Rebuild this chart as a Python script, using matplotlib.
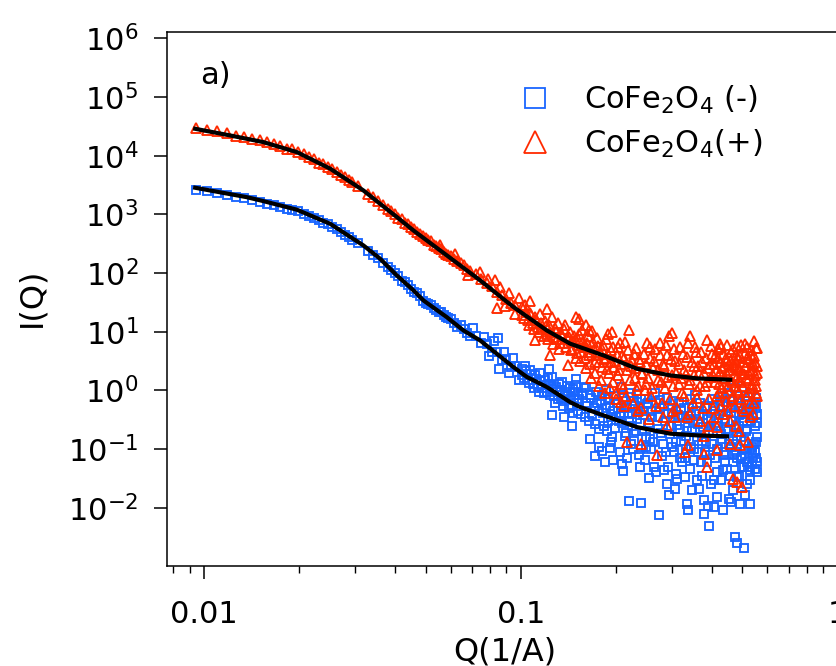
import matplotlib
matplotlib.use("Agg")
import matplotlib.pyplot as plt
import numpy as np
from matplotlib import ticker as mticker
from matplotlib.lines import Line2D

# ---- data: (Q in 1/A, I(Q)) ----
blue_low = [
    (0.0094, 2600), (0.0102, 2480), (0.0110, 2330), (0.0118, 2100), (0.0126, 2010),
    (0.0134, 1880), (0.0142, 1760), (0.0150, 1650), (0.0158, 1530), (0.0166, 1430),
    (0.0174, 1350), (0.0182, 1250), (0.0190, 1190), (0.0198, 1120), (0.0206, 1010),
    (0.0214, 950), (0.0222, 850), (0.0230, 800), (0.0238, 720), (0.0246, 680),
    (0.0254, 610), (0.0262, 560), (0.0270, 500), (0.0278, 445), (0.0286, 405),
    (0.0294, 372), (0.0305, 330), (0.0330, 240), (0.0342, 205), (0.0355, 180),
    (0.0368, 150), (0.0380, 126), (0.0390, 112), (0.0400, 100), (0.0410, 88),
    (0.0420, 74), (0.0430, 70), (0.0440, 62), (0.0450, 53), (0.0460, 47),
    (0.0470, 45), (0.0480, 40), (0.0490, 34), (0.0500, 31), (0.0510, 30),
    (0.0520, 28.5), (0.0530, 25), (0.0540, 23), (0.0550, 22), (0.0560, 21.5),
    (0.0570, 19.5), (0.0580, 17.5), (0.0590, 17), (0.0600, 16.5), (0.0615, 14),
    (0.0630, 12.2), (0.0645, 13), (0.0660, 11.0), (0.0675, 9.5), (0.0690, 8.6),
    (0.0705, 11.5), (0.0720, 8.3), (0.0750, 6.5), (0.0765, 8.2), (0.0780, 6.2),
    (0.0795, 3.9), (0.0810, 4.6), (0.0825, 6.9), (0.0840, 4.5), (0.0847, 7.7),
    (0.0855, 2.3), (0.0870, 3.3), (0.0885, 4.6), (0.0900, 3.4), (0.0915, 2.0),
    (0.0930, 2.5), (0.0945, 3.6), (0.0960, 2.6), (0.0985, 1.5),
]
blue_high = [
    (0.1005, 2.3), (0.102, 1.6), (0.104, 2.1), (0.106, 1.35), (0.108, 1.9),
    (0.110, 1.1), (0.112, 1.55), (0.114, 0.95), (0.116, 1.45), (0.118, 0.9),
    (0.120, 1.25), (0.122, 1.6), (0.1228, 2.3), (0.124, 0.85), (0.1253, 0.375),
    (0.126, 1.05), (0.128, 0.6), (0.130, 0.95), (0.132, 1.3), (0.134, 0.7),
    (0.136, 0.55), (0.1364, 0.35), (0.138, 0.85), (0.140, 1.2), (0.142, 0.5),
    (0.144, 0.75), (0.1445, 0.25), (0.146, 0.42), (0.146, 1.07), (0.148, 0.95),
    (0.1488, 1.55), (0.150, 0.62), (0.152, 0.85), (0.155, 0.4), (0.158, 1.1),
    (0.1608, 1.14), (0.161, 0.6), (0.164, 0.3), (0.165, 0.15), (0.167, 0.75),
    (0.170, 0.5), (0.172, 0.075), (0.173, 0.95), (0.176, 0.22), (0.179, 0.65),
    (0.181, 0.091), (0.182, 0.42), (0.185, 1.05), (0.186, 1.0), (0.187, 0.2),
    (0.188, 0.3), (0.1906, 0.104), (0.191, 0.55), (0.194, 0.16), (0.196, 0.065),
    (0.197, 0.8), (0.200, 0.35), (0.203, 0.5), (0.2065, 1.14), (0.2081, 0.056),
    (0.2097, 0.043), (0.209, 0.28), (0.212, 0.65), (0.215, 0.19), (0.218, 0.42),
    (0.2187, 0.0133), (0.221, 0.9), (0.2227, 0.77), (0.224, 0.25), (0.227, 0.14),
    (0.230, 0.55), (0.2325, 0.88), (0.233, 0.33), (0.236, 0.08), (0.239, 0.7),
    (0.2395, 0.0122), (0.242, 0.2), (0.245, 0.45), (0.248, 0.11), (0.250, 0.59),
    (0.252, 0.6), (0.2541, 0.032), (0.256, 0.15), (0.26, 0.35), (0.264, 0.049),
    (0.265, 0.9), (0.27, 0.22), (0.272, 0.0074), (0.275, 0.5), (0.2756, 0.675),
    (0.28, 0.12), (0.2836, 0.0446), (0.285, 0.3), (0.2891, 0.0257), (0.29, 0.75),
    (0.2941, 0.0163), (0.295, 0.18), (0.30, 0.42), (0.305, 0.09), (0.3055, 0.0211),
    (0.31, 0.26), (0.311, 0.0313), (0.315, 0.6), (0.3199, 0.456), (0.32, 0.14),
    (0.325, 0.35), (0.33, 0.07), (0.3303, 0.0333), (0.3343, 0.0117), (0.335, 0.2),
    (0.3382, 0.009), (0.34, 0.5), (0.345, 0.11), (0.3458, 0.0198), (0.35, 0.3),
    (0.355, 0.85), (0.3592, 0.0293), (0.36, 0.16), (0.3638, 0.0211), (0.365, 0.4),
    (0.37, 0.06), (0.375, 0.24), (0.3772, 0.0134), (0.3799, 0.0079), (0.38, 0.55),
    (0.385, 0.13), (0.3884, 0.0106), (0.39, 0.33), (0.3912, 0.0048), (0.395, 0.08),
    (0.40, 0.7), (0.405, 0.19), (0.4057, 0.0103), (0.4057, 0.0293), (0.41, 0.45),
    (0.415, 0.1), (0.4159, 0.0152), (0.42, 0.28), (0.425, 0.65), (0.43, 0.15),
    (0.4337, 0.009), (0.435, 0.38), (0.4357, 0.0434), (0.44, 0.06), (0.445, 0.22),
    (0.45, 0.9), (0.4524, 0.0143), (0.455, 0.12), (0.46, 0.5), (0.4609, 0.0125),
    (0.465, 0.3), (0.4683, 0.0198), (0.47, 0.08), (0.4749, 0.0032), (0.475, 1.1),
    (0.48, 0.17), (0.4808, 0.0025), (0.4808, 0.0333), (0.485, 0.6), (0.49, 0.25),
    (0.4914, 0.0114), (0.495, 0.07), (0.4987, 0.049), (0.50, 0.4), (0.5045, 0.0021),
    (0.505, 0.14), (0.51, 0.8), (0.5108, 0.0163), (0.515, 0.2), (0.517, 0.0257),
    (0.52, 0.05), (0.525, 0.45), (0.5297, 0.0114), (0.5297, 0.0434), (0.53, 0.9),
    (0.535, 0.11), (0.5363, 0.0564), (0.54, 0.35), (0.545, 0.6), (0.548, 0.045),
    (0.55, 0.09), (0.552, 0.5), (0.555, 0.28), (0.556, 0.04), (0.557, 0.16),
]
blue_band = [
    (0.101, 1.8), (0.103, 2.6), (0.105, 1.5), (0.107, 2.2), (0.109, 1.3), (0.111, 1.8),
    (0.113, 1.2), (0.115, 2.0), (0.117, 1.1), (0.119, 1.5), (0.121, 0.95), (0.123, 1.3),
    (0.125, 1.7), (0.127, 0.8), (0.129, 1.15), (0.131, 0.7), (0.133, 1.0), (0.135, 1.4),
    (0.137, 0.65), (0.139, 0.95), (0.141, 0.8), (0.143, 1.1), (0.145, 0.55), (0.147, 0.7),
    (0.149, 1.25), (0.151, 0.45), (0.153, 0.7), (0.156, 0.9), (0.159, 0.35), (0.162, 0.55),
    (0.165, 0.85), (0.168, 0.4), (0.171, 0.27), (0.174, 0.6), (0.177, 0.45), (0.180, 0.8),
    (0.183, 0.25), (0.186, 0.5), (0.189, 0.7), (0.192, 0.35), (0.195, 0.45), (0.198, 0.23),
    (0.201, 0.6), (0.204, 0.3), (0.207, 0.42), (0.210, 0.75), (0.213, 0.17), (0.216, 0.5),
    (0.219, 0.3), (0.222, 0.12), (0.225, 0.4), (0.228, 0.65), (0.231, 0.2), (0.234, 0.45),
    (0.237, 0.28), (0.240, 0.1), (0.243, 0.38), (0.246, 0.7), (0.249, 0.16), (0.253, 0.28),
    (0.257, 0.45), (0.261, 0.13), (0.267, 0.6), (0.271, 0.35), (0.277, 0.19), (0.283, 0.55),
    (0.287, 0.09), (0.292, 0.4), (0.297, 0.25), (0.302, 0.65), (0.308, 0.13), (0.313, 0.38),
    (0.318, 0.22), (0.322, 0.06), (0.328, 0.5), (0.332, 0.17), (0.337, 0.32), (0.343, 0.7),
    (0.347, 0.2), (0.352, 0.1), (0.357, 0.45), (0.362, 0.27), (0.367, 0.6), (0.372, 0.14),
    (0.377, 0.38), (0.382, 0.09), (0.387, 0.5), (0.392, 0.2), (0.397, 0.3), (0.402, 0.12),
    (0.407, 0.55), (0.412, 0.25), (0.417, 0.04), (0.422, 0.4), (0.427, 0.18), (0.432, 0.8),
    (0.437, 0.09), (0.442, 0.33), (0.447, 0.55), (0.452, 0.2), (0.457, 0.035), (0.462, 0.7),
    (0.467, 0.14), (0.472, 0.42), (0.477, 0.26), (0.482, 0.07), (0.487, 0.38), (0.492, 0.55),
    (0.497, 0.16), (0.502, 0.3), (0.507, 0.05), (0.512, 0.45), (0.518, 0.22), (0.522, 0.65),
    (0.527, 0.1), (0.532, 0.3), (0.537, 0.5), (0.542, 0.07), (0.547, 0.25), (0.551, 0.75),
    (0.554, 0.13), (0.557, 0.4), (0.557, 0.06),
]
blue_tail = [
    (0.176, 0.11), (0.184, 0.06), (0.193, 0.13), (0.205, 0.09), (0.217, 0.07), (0.226, 0.1),
    (0.238, 0.05), (0.247, 0.065), (0.258, 0.1), (0.268, 0.04), (0.279, 0.075), (0.291, 0.05),
    (0.299, 0.11), (0.309, 0.038), (0.319, 0.07), (0.331, 0.1), (0.341, 0.045), (0.353, 0.065),
    (0.363, 0.09), (0.374, 0.035), (0.386, 0.06), (0.398, 0.025), (0.409, 0.07), (0.419, 0.1),
    (0.428, 0.03), (0.439, 0.08), (0.449, 0.045), (0.459, 0.11), (0.469, 0.06), (0.479, 0.09),
    (0.489, 0.035), (0.499, 0.075), (0.509, 0.1), (0.519, 0.06), (0.528, 0.03), (0.538, 0.085),
    (0.546, 0.12), (0.553, 0.07),
]
red_low = [
    (0.0094, 29500), (0.0102, 27500), (0.0110, 26000), (0.0118, 24500), (0.0126, 21500),
    (0.0134, 20500), (0.0142, 19000), (0.0150, 18200), (0.0158, 16800), (0.0166, 15800),
    (0.0174, 14500), (0.0182, 13200), (0.0190, 12800), (0.0198, 11600), (0.0206, 10600),
    (0.0214, 9400), (0.0222, 8700), (0.0230, 7600), (0.0238, 7100), (0.0246, 6300),
    (0.0254, 5900), (0.0262, 5300), (0.0270, 4700), (0.0278, 4300), (0.0286, 3800),
    (0.0294, 3500), (0.0305, 3100), (0.0330, 2250), (0.0342, 1950), (0.0355, 1700),
    (0.0368, 1420), (0.0380, 1250), (0.0390, 1120), (0.0400, 1000), (0.0410, 880),
    (0.0420, 820), (0.0430, 720), (0.0440, 680), (0.0450, 600), (0.0460, 560),
    (0.0470, 500), (0.0480, 470), (0.0490, 420), (0.0500, 390), (0.0510, 360),
    (0.0520, 345), (0.0530, 305), (0.0540, 285), (0.0550, 265), (0.0557, 300),
    (0.0560, 252), (0.0570, 225), (0.0580, 215), (0.0590, 205), (0.0600, 195),
    (0.0615, 175), (0.0620, 210), (0.0630, 160), (0.0645, 150), (0.0660, 135),
    (0.0675, 118), (0.0680, 92), (0.0690, 108), (0.0720, 96), (0.0744, 104),
    (0.0750, 80), (0.0780, 68), (0.0790, 80), (0.0810, 60), (0.0830, 75),
    (0.0838, 25), (0.0840, 48), (0.0860, 58), (0.0870, 42), (0.0890, 27),
    (0.0900, 36), (0.0920, 45), (0.0930, 31), (0.0955, 20), (0.0960, 28),
    (0.0985, 38),
]
red_high = [
    (0.1005, 26), (0.102, 17), (0.104, 22), (0.106, 13), (0.107, 34),
    (0.108, 19), (0.110, 11), (0.1111, 7.1), (0.112, 16), (0.114, 10),
    (0.116, 14), (0.118, 8.5), (0.120, 12.5), (0.1208, 24.7), (0.122, 7.5),
    (0.1237, 3.95), (0.124, 10), (0.126, 6.2), (0.128, 11.5), (0.130, 7.5),
    (0.132, 5), (0.134, 9.5), (0.136, 6.5), (0.138, 13), (0.1408, 2.66),
    (0.142, 8), (0.144, 4.8), (0.146, 6.8), (0.1488, 17.7), (0.150, 4.3),
    (0.152, 7.5), (0.1525, 16.6), (0.154, 3.2), (0.156, 10.5), (0.158, 5.5),
    (0.160, 2.4), (0.1608, 12.8), (0.162, 6.5), (0.164, 4), (0.1645, 10.8),
    (0.166, 1.6), (0.168, 10.2), (0.170, 5), (0.172, 3), (0.174, 7.8),
    (0.176, 1.2), (0.178, 4.5), (0.180, 2.5), (0.182, 6), (0.184, 0.9),
    (0.186, 3.6), (0.188, 9.2), (0.190, 2), (0.192, 4.8), (0.194, 9.8),
    (0.196, 1.4), (0.198, 3.2), (0.200, 0.7), (0.202, 5.5), (0.204, 2.2),
    (0.2065, 0.63), (0.208, 3.8), (0.210, 1.1), (0.2117, 0.55), (0.213, 6.8),
    (0.2162, 0.13), (0.2195, 10.8), (0.222, 2.6), (0.227, 4.2), (0.230, 1.6),
    (0.2325, 1.0), (0.235, 0.45), (0.238, 3), (0.2395, 0.123), (0.242, 1.9),
    (0.248, 1.3), (0.250, 6.5), (0.2532, 0.33), (0.255, 3.5), (0.258, 0.8),
    (0.262, 2.4), (0.266, 5), (0.2698, 0.078), (0.270, 1.5), (0.2756, 6.5),
    (0.278, 0.6), (0.282, 2.8), (0.286, 1.1), (0.2891, 0.25), (0.290, 4),
    (0.2925, 8.3), (0.2993, 9.5), (0.300, 1.8), (0.303, 0.45), (0.3059, 0.35),
    (0.307, 3.2), (0.315, 1.3), (0.319, 5.5), (0.323, 0.9), (0.327, 2.2),
    (0.3303, 0.089), (0.3343, 0.35), (0.335, 3.7), (0.3382, 0.116), (0.341, 1.5),
    (0.3421, 8.3), (0.349, 0.6), (0.353, 2.6), (0.357, 4.6), (0.361, 1.0),
    (0.365, 2), (0.369, 0.3), (0.373, 3), (0.3772, 0.17), (0.3772, 0.083),
    (0.381, 1.2), (0.3862, 7.1), (0.3862, 0.049), (0.389, 2.4), (0.393, 0.7),
    (0.397, 1.7), (0.401, 4.2), (0.404, 0.5), (0.407, 2.8), (0.410, 1.4),
    (0.4159, 0.24), (0.4159, 0.095), (0.418, 3.6), (0.421, 0.9), (0.4242, 6.25),
    (0.424, 2), (0.427, 5.4), (0.430, 1.1), (0.436, 0.4), (0.439, 2.6),
    (0.442, 1.6), (0.445, 0.65), (0.448, 3.3), (0.451, 1.2), (0.454, 2.2),
    (0.457, 0.3), (0.4581, 0.123), (0.460, 4.5), (0.463, 1.4), (0.466, 0.8),
    (0.4683, 0.031), (0.469, 2.7), (0.472, 1.8), (0.475, 0.55), (0.478, 3.1),
    (0.4808, 5.6), (0.4808, 0.027), (0.481, 1.0), (0.484, 2.3), (0.487, 0.2),
    (0.490, 1.5), (0.4914, 0.116), (0.493, 3.8), (0.496, 0.7), (0.4987, 0.0225),
    (0.499, 2), (0.502, 1.2), (0.508, 0.45), (0.5108, 6.25), (0.511, 2.5),
    (0.514, 1.6), (0.517, 3.5), (0.520, 0.95), (0.5208, 0.13), (0.526, 1.9),
    (0.529, 0.35), (0.532, 4), (0.535, 1.3), (0.541, 2.2), (0.544, 0.6),
    (0.5452, 6.9), (0.547, 1.5), (0.550, 3), (0.553, 0.9), (0.556, 2),
    (0.557, 5.3),
]
red_band = [
    (0.101, 19), (0.103, 28), (0.105, 16), (0.107, 21), (0.109, 14), (0.111, 18),
    (0.113, 12), (0.115, 20), (0.117, 11), (0.119, 15), (0.121, 9), (0.123, 13),
    (0.125, 18), (0.127, 8), (0.129, 10), (0.131, 14), (0.133, 6.5), (0.135, 8.5),
    (0.137, 11), (0.139, 5.5), (0.141, 7.5), (0.143, 10), (0.145, 5), (0.147, 8.5),
    (0.149, 3.5), (0.151, 6), (0.153, 9), (0.155, 4.5), (0.157, 7), (0.159, 3.6),
    (0.161, 5.5), (0.163, 8.5), (0.165, 2.8), (0.167, 4.5), (0.169, 6.8), (0.171, 2),
    (0.173, 4), (0.175, 5.8), (0.177, 3), (0.179, 1.5), (0.181, 5), (0.183, 3.4),
    (0.185, 7.5), (0.187, 2.3), (0.189, 4.2), (0.191, 1.1), (0.193, 3), (0.195, 5.5),
    (0.197, 2.5), (0.199, 0.9), (0.201, 4), (0.203, 1.8), (0.205, 6.5), (0.207, 2.8),
    (0.209, 1.3), (0.211, 3.6), (0.214, 0.8), (0.216, 2.2), (0.218, 4.8), (0.221, 1.5),
    (0.224, 3.2), (0.226, 0.6), (0.229, 2.4), (0.231, 5.2), (0.234, 1.2), (0.236, 3.4),
    (0.239, 0.5), (0.241, 2), (0.244, 4.2), (0.246, 1), (0.249, 2.8), (0.252, 1.6),
    (0.256, 5.5), (0.259, 1.1), (0.263, 3.2), (0.267, 0.55), (0.271, 2.2), (0.274, 4),
    (0.277, 1.4), (0.281, 0.35), (0.284, 2.6), (0.288, 6), (0.291, 1.7), (0.295, 0.7),
    (0.298, 3.4), (0.302, 1.2), (0.305, 5), (0.309, 2), (0.312, 0.5), (0.316, 2.8),
    (0.32, 1.6), (0.324, 4.2), (0.328, 0.8), (0.332, 1.9), (0.336, 6.5), (0.339, 1.3),
    (0.343, 0.4), (0.347, 3), (0.351, 1.8), (0.355, 5.5), (0.359, 0.75), (0.363, 2.6),
    (0.367, 1.2), (0.371, 4.5), (0.375, 0.5), (0.379, 2), (0.383, 3.5), (0.387, 1.4),
    (0.391, 0.25), (0.395, 2.8), (0.399, 5.8), (0.403, 1.8), (0.406, 0.35), (0.409, 3.8),
    (0.412, 2.1), (0.415, 0.8), (0.419, 5), (0.422, 1.3), (0.425, 3), (0.428, 0.55),
    (0.431, 2.4), (0.434, 4.2), (0.437, 1.6), (0.440, 0.9), (0.443, 3.6), (0.446, 1.9),
    (0.449, 6), (0.452, 0.45), (0.455, 2.8), (0.458, 1.5), (0.461, 3.3), (0.464, 0.7),
    (0.467, 5), (0.470, 1.2), (0.473, 2.5), (0.476, 0.25), (0.479, 4), (0.482, 1.7),
    (0.485, 3.5), (0.488, 0.95), (0.491, 2.2), (0.494, 6), (0.497, 1.4), (0.500, 0.5),
    (0.503, 3), (0.506, 1.9), (0.509, 4.4), (0.512, 0.8), (0.515, 2.6), (0.518, 5.5),
    (0.521, 1.5), (0.524, 3.4), (0.527, 0.6), (0.530, 2.1), (0.533, 4.8), (0.536, 1.1),
    (0.539, 2.8), (0.542, 0.4), (0.545, 3.8), (0.548, 1.8), (0.551, 5.2), (0.554, 1.2),
    (0.556, 2.6), (0.557, 0.8),
]

# model fits (black curves)
blue_fit_q = [0.00937, 0.01365, 0.01539, 0.01962, 0.0250, 0.03184, 0.03595, 0.04059,
              0.04581, 0.04926, 0.05836, 0.06589, 0.07437, 0.09478, 0.1045, 0.1208,
              0.1431, 0.1539, 0.1823, 0.2325, 0.2961, 0.3612, 0.4473]
blue_fit_i = [2840, 1960, 1680, 1200, 690, 295, 175, 91,
              50.6, 34.1, 17.7, 10.5, 7.1, 2.49, 1.69, 1.14,
              0.63, 0.52, 0.375, 0.237, 0.183, 0.171, 0.165]
red_fit_q = [0.00937, 0.01208, 0.01539, 0.01962, 0.0250, 0.03184, 0.03595, 0.04059,
             0.04581, 0.05836, 0.07437, 0.09478, 0.1208, 0.1431, 0.1823, 0.2325,
             0.2961, 0.3612, 0.4581]
red_fit_i = [28700, 22100, 17000, 11500, 6000, 2550, 1510, 900,
             530, 200, 75, 26.3, 10.5, 6.25, 3.95, 2.34,
             1.80, 1.60, 1.52]

BLUE = '#1a66ff'
RED = '#ff2a00'

blue = np.array(blue_low + blue_high + blue_band + blue_tail)
red = np.array(red_low + red_high + red_band)

fig = plt.figure(figsize=(8.37, 6.66), dpi=100)
ax = fig.add_axes([0.1992, 0.1506, 0.808, 0.8018])

ax.plot(blue[:, 0], blue[:, 1], 's', ms=5.3, mfc='none', mec=BLUE, mew=1.35)
ax.plot(red[:, 0], red[:, 1], '^', ms=6.6, mfc='none', mec=RED, mew=1.35)
ax.plot(blue_fit_q, blue_fit_i, '-', color='black', lw=3.0)
ax.plot(red_fit_q, red_fit_i, '-', color='black', lw=3.0)

ax.set_xscale('log')
ax.set_yscale('log')
ax.set_xlim(0.00762, 1.04)
ax.set_ylim(1.03e-3, 1.295e6)

ax.xaxis.set_major_locator(mticker.FixedLocator([0.01, 0.1, 1]))
ax.xaxis.set_major_formatter(mticker.FixedFormatter(['0.01', '0.1', '1']))
ax.xaxis.set_minor_locator(mticker.LogLocator(base=10, subs=np.arange(2, 10)))
ax.xaxis.set_minor_formatter(mticker.NullFormatter())

ax.yaxis.set_major_locator(mticker.FixedLocator([10.0 ** k for k in range(-2, 7)]))
ax.yaxis.set_major_formatter(mticker.FuncFormatter(
    lambda v, pos: '$10^{%d}$' % int(round(np.log10(v)))))
ax.yaxis.set_minor_locator(mticker.NullLocator())

ax.tick_params(axis='both', which='major', direction='out', length=9.5, width=1.1,
               labelsize=22, top=False, right=False)
ax.tick_params(axis='x', which='minor', direction='out', length=5, width=1.0, top=False)
ax.tick_params(axis='y', which='major', pad=11)
ax.tick_params(axis='x', which='major', pad=15)
for s in ax.spines.values():
    s.set_linewidth(1.1)

fig.text(505 / 837, 1 - 652 / 666, 'Q(1/A)', fontsize=23, ha='center', va='center')
fig.text(32 / 837, 1 - 297 / 666, 'I(Q)', fontsize=23, ha='center', va='center',
         rotation=90)
ax.text(0.05, 0.918, 'a)', transform=ax.transAxes, fontsize=22, ha='left', va='center')

handles = [Line2D([], [], ls='none', marker='s', ms=15, mfc='none', mec=BLUE, mew=1.3),
           Line2D([], [], ls='none', marker='^', ms=16, mfc='none', mec=RED, mew=1.3)]
ax.legend(handles, ['CoFe$_2$O$_4$ (-)', 'CoFe$_2$O$_4$(+)'], loc='upper left',
          bbox_to_anchor=(517 / 837, 1 - 84 / 666), bbox_transform=fig.transFigure,
          frameon=False, fontsize=22, handlelength=1.2, handletextpad=1.0,
          labelspacing=0.38, borderpad=0, borderaxespad=0)

fig.savefig('out.png', dpi=100)
